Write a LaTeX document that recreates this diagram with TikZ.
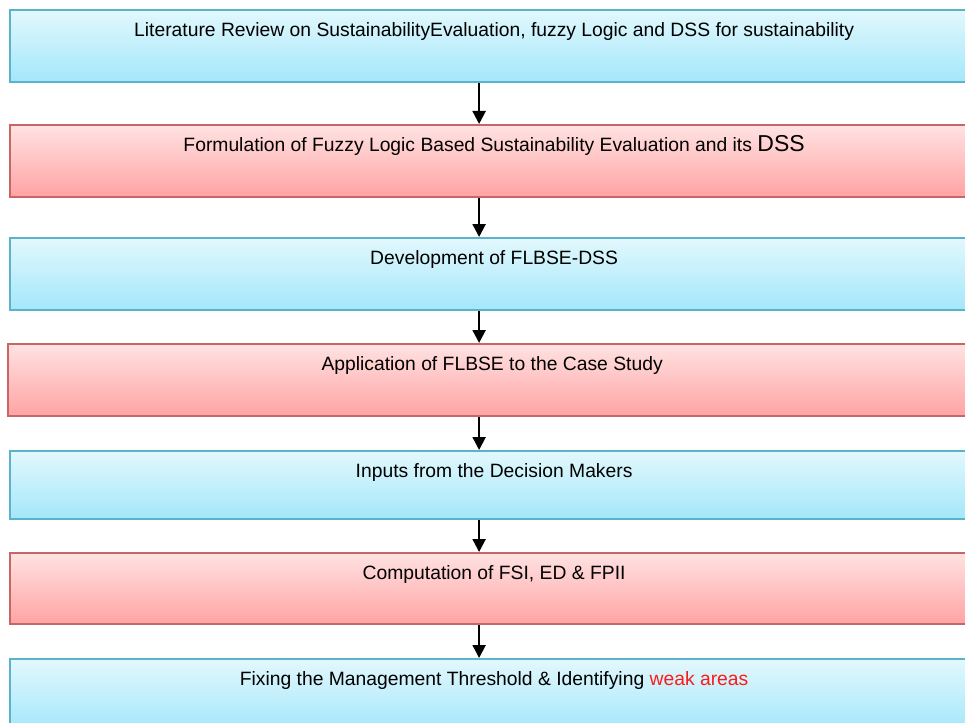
\documentclass[tikz,border=0pt]{standalone}
\usepackage{fontspec}
\setmainfont{Liberation Sans}
\usetikzlibrary{arrows.meta}

\definecolor{blueline}{HTML}{5AB3CB}
\definecolor{bluetop}{HTML}{E2F8FD}
\definecolor{bluebot}{HTML}{A3E7FA}
\definecolor{redline}{HTML}{C96565}
\definecolor{redtop}{HTML}{FFE2E2}
\definecolor{redbot}{HTML}{FFA3A3}
\definecolor{weakred}{HTML}{FF1A1A}

\tikzset{
  stage/.style={anchor=north west,minimum width=968pt,inner sep=0pt,
    text height=26pt,text depth=46pt,line width=2.2pt,
    font=\fontsize{19.3}{22}\selectfont},
  bluestage/.style={stage,draw=blueline,top color=bluetop,bottom color=bluebot},
  redstage/.style={stage,draw=redline,top color=redtop,bottom color=redbot},
  flow/.style={-{Triangle[length=13pt,width=13pt]},line width=2.2pt}
}

\begin{document}
\begin{tikzpicture}[x=1pt,y=-1pt]
        \useasboundingbox (0,0) rectangle (965,722) ;
        %\draw[very thin,gray,step=50] (0,0) grid (965,722) ;
        \node[bluestage] (review) at (9,9)
        {Literature Review on SustainabilityEvaluation, fuzzy Logic and DSS for sustainability} ;
        \node[redstage] (formul) at (9,124)
        {Formulation of Fuzzy Logic Based Sustainability Evaluation and its {\fontsize{23}{23}\selectfont DSS}} ;
        \node[bluestage] (devel) at (9,237) {Development of FLBSE-DSS} ;
        \node[redstage] (applic) at (7,343) {Application of FLBSE to the Case Study} ;
        \node[bluestage,text depth=42pt] (inputs) at (9,450) {Inputs from the Decision Makers} ;
        \node[redstage,text depth=45pt] (comput) at (9,552) {Computation of FSI, ED \& FPII} ;
        \node[bluestage] (fixing) at (9,658)
        {Fixing the Management Threshold \& Identifying \textcolor{weakred}{weak areas}} ;
        % arrows sit a bit left of the box centres
        \draw[flow] ([xshift=-15pt]review.south) -- ([xshift=-15pt]formul.north) ;
        \draw[flow] ([xshift=-15pt]formul.south) -- ([xshift=-15pt]devel.north) ;
        \draw[flow] ([xshift=-15pt]devel.south) -- ([xshift=-13pt]applic.north) ;
        \draw[flow] ([xshift=-13pt]applic.south) -- ([xshift=-15pt]inputs.north) ;
        \draw[flow] ([xshift=-15pt]inputs.south) -- ([xshift=-15pt]comput.north) ;
        \draw[flow] ([xshift=-15pt]comput.south) -- ([xshift=-15pt]fixing.north) ;
\end{tikzpicture}
\end{document}
